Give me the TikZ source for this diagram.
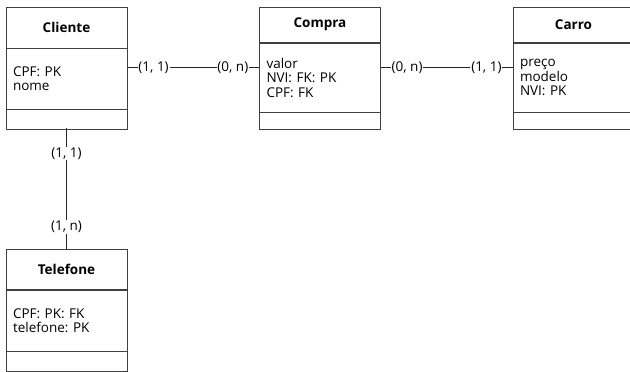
\documentclass[tikz,border=0pt]{standalone}
\usepackage{fontspec}
\setmainfont{Open Sans}
\usepackage{tikz}
\usetikzlibrary{positioning}
\usepackage{xcolor}

\newcommand{\erfont}{\fontsize{13.5pt}{14.5pt}\selectfont\frenchspacing}

\begin{document}
\begin{tikzpicture}[x=1pt,y=-1pt,
    entity/.style={rectangle,minimum width=121pt,minimum height=121pt,inner sep=0pt},
    head/.style={rectangle,draw=black!75,line width=0.8pt,minimum width=121pt,inner sep=0pt,font=\erfont\bfseries},
    attr/.style={rectangle,draw=black!75,line width=0.8pt,text width=107pt,inner xsep=7pt,inner ysep=0pt,align=left,font=\erfont},
    foot/.style={rectangle,draw=black!75,line width=0.8pt,minimum width=121pt,inner sep=0pt},
    card/.style={fill=white,inner xsep=0.8pt,inner ysep=1pt,font=\erfont},
    link/.style={draw=black!85,line width=1pt}]

\useasboundingbox (0,0) rectangle (630,372);

% Cliente
\node[entity] (cli) at (66.5,67.5) {};
\node[head,minimum height=40.7pt,below=0pt of cli.north] (cliH) {Cliente};
\node[attr,minimum height=60.3pt,below=0pt of cliH] (cliA) {CPF: PK\\nome};
\node[foot,minimum height=20pt,below=0pt of cliA] (cliF) {};

% Compra
\node[entity] (com) at (320,67.5) {};
\node[head,minimum height=35pt,below=0pt of com.north] (comH) {Compra};
\node[attr,minimum height=69pt,below=0pt of comH] (comA) {valor\\NVI: FK: PK\\CPF: FK};
\node[foot,minimum height=17pt,below=0pt of comA] (comF) {};

% Carro
\node[entity] (car) at (573.5,67.5) {};
\node[head,minimum height=35pt,below=0pt of car.north] (carH) {Carro};
\node[attr,minimum height=69pt,below=0pt of carH] (carA) {preço\\modelo\\NVI: PK};
\node[foot,minimum height=17pt,below=0pt of carA] (carF) {};

% Telefone
\node[entity] (tel) at (66.5,309.5) {};
\node[head,minimum height=40pt,below=0pt of tel.north] (telH) {Telefone};
\node[attr,minimum height=61pt,below=0pt of telH] (telA) {CPF: PK: FK\\telefone: PK};
\node[foot,minimum height=20pt,below=0pt of telA] (telF) {};

% relacionamentos
\draw[link] (cli.east) -- node[card,pos=0.2] {(1, 1)} node[card,pos=0.8] {(0, n)} (com.west);
\draw[link] (com.east) -- node[card,pos=0.2] {(0, n)} node[card,pos=0.8] {(1, 1)} (car.west);
\draw[link] (cli.south) -- node[card,pos=0.21] {(1, 1)} node[card,pos=0.82] {(1, n)} (tel.north);

\end{tikzpicture}
\end{document}
